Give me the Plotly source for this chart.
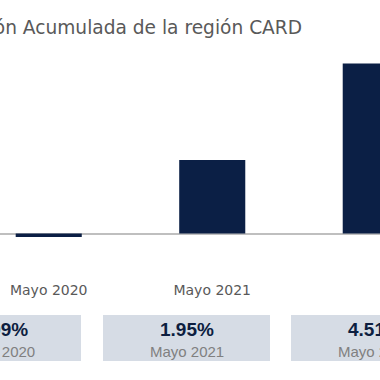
import plotly.graph_objects as go

# Data
categories = ["Mayo 2020", "Mayo 2021", "Mayo 2022"]
values = [-0.09, 1.95, 4.51]
value_labels = ["-0.09%", "1.95%", "4.51%"]
title_text = "Inflación Acumulada de la región CARD"

W, H = 380, 380
ML, MR, MT, MB = 0, 0, 60, 100
PLOT_H = H - MT - MB

def px_x(px):
    return (px - ML) / (W - ML - MR)

def px_y(py):
    return (H - MB - py) / PLOT_H

NAVY = "#0B1F45"
BOX = "#D6DCE5"

fig = go.Figure()
fig.add_trace(go.Bar(
    x=list(range(len(categories))),
    y=values,
    marker=dict(color=NAVY, line=dict(width=0)),
    width=0.404,
    hoverinfo="skip",
))

# y scale: zero at pixel 233.5, 37.7 px per unit
zero_px = 233.5
ppu = 37.7
y_top = (zero_px - MT) / ppu
y_bot = y_top - PLOT_H / ppu

fig.update_layout(
    width=W, height=H,
    margin=dict(l=ML, r=MR, t=MT, b=MB, pad=0),
    paper_bgcolor="white", plot_bgcolor="white",
    showlegend=False,
    xaxis=dict(
        range=[-0.298, 2.026],
        tickmode="array",
        tickvals=list(range(len(categories))),
        ticktext=categories,
        tickfont=dict(family="DejaVu Sans", size=14, color="#595959"),
        showgrid=False, zeroline=False, showline=False,
        ticks="", fixedrange=True,
    ),
    yaxis=dict(
        range=[y_bot, y_top],
        showgrid=False, showticklabels=False,
        zeroline=True, zerolinecolor="#BFBFBF", zerolinewidth=2,
        showline=False, ticks="", fixedrange=True,
    ),
)

# Title (cropped on the left as in the reference)
fig.add_annotation(
    text=title_text, xref="paper", yref="paper",
    x=px_x(304), y=px_y(28), xanchor="right", yanchor="middle",
    showarrow=False,
    font=dict(family="DejaVu Sans", size=18.6, color="#595959"),
)

# Summary boxes
box_lefts = [-86, 103, 291]
box_w = 167
box_top, box_bot = 315, 361
for i, (lab, cat) in enumerate(zip(value_labels, categories)):
    x0 = box_lefts[i]
    x1 = x0 + box_w
    fig.add_shape(type="rect", xref="paper", yref="paper",
                  x0=px_x(x0), x1=px_x(x1), y0=px_y(box_bot), y1=px_y(box_top),
                  fillcolor=BOX, line=dict(width=0), layer="below")
    cx = px_x((x0 + x1) / 2)
    fig.add_annotation(text="<b>" + lab + "</b>", xref="paper", yref="paper",
                       x=cx, y=px_y(329), xanchor="center", yanchor="middle",
                       showarrow=False,
                       font=dict(family="Liberation Sans", size=19, color="#0D1E40"))
    fig.add_annotation(text=cat, xref="paper", yref="paper",
                       x=cx, y=px_y(351), xanchor="center", yanchor="middle",
                       showarrow=False,
                       font=dict(family="Liberation Sans", size=15, color="#808080"))

fig.write_html(
    "out.html",
    config={"displayModeBar": False, "staticPlot": True},
    post_script="document.body.style.margin='0px';document.body.style.overflow='hidden';",
)
